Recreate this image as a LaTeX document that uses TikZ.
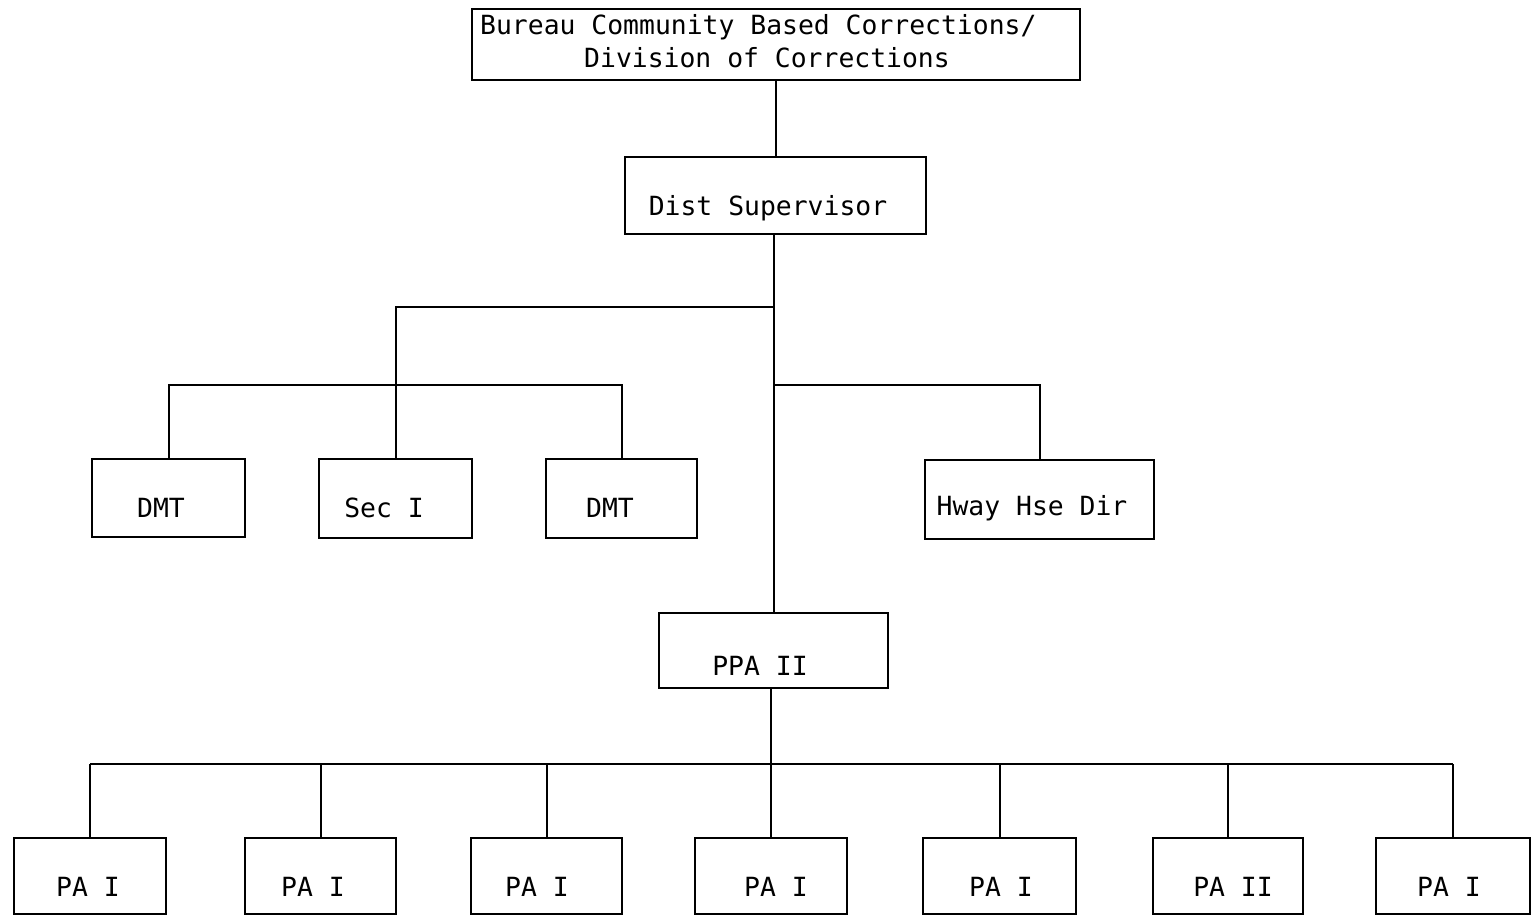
\documentclass[tikz,border=0pt]{standalone}
\usepackage{fontspec}
\newfontfamily\chartfont{DejaVu Sans Mono}
\begin{document}
\begin{tikzpicture}[x=1pt,y=-1pt,
  box/.style={draw, line width=2pt, inner sep=0pt, outer sep=0pt, fill=white},
  lbl/.style={inner sep=0pt, anchor=base, font=\chartfont\fontsize{26.4}{33}\selectfont},
  link/.style={line width=2pt}]
\useasboundingbox[fill=white] (0,0) rectangle (1531,917);

% boxes (centre, width, height)
\node[box, minimum width=608, minimum height=71] (bureau) at (776,44.5) {};
\node[box, minimum width=301, minimum height=77] (ds)     at (775.5,195.5) {};
\node[box, minimum width=153, minimum height=78] (dmt1)   at (168.5,498) {};
\node[box, minimum width=153, minimum height=79] (sec)    at (395.5,498.5) {};
\node[box, minimum width=151, minimum height=79] (dmt2)   at (621.5,498.5) {};
\node[box, minimum width=229, minimum height=79] (hway)   at (1039.5,499.5) {};
\node[box, minimum width=229, minimum height=75] (ppa)    at (773.5,650.5) {};
\node[box, minimum width=152, minimum height=76] (pa1)    at (90,876) {};
\node[box, minimum width=151, minimum height=76] (pa2)    at (320.5,876) {};
\node[box, minimum width=151, minimum height=76] (pa3)    at (546.5,876) {};
\node[box, minimum width=152, minimum height=76] (pa4)    at (771,876) {};
\node[box, minimum width=153, minimum height=76] (pa5)    at (999.5,876) {};
\node[box, minimum width=150, minimum height=76] (pa6)    at (1228,876) {};
\node[box, minimum width=154, minimum height=76] (pa7)    at (1453,876) {};

% texts
\node[lbl, anchor=base west] (t-bureau1) at (480,35) {Bureau Community Based Corrections/};
\node[lbl] (t-bureau2) at (767,68) {Division of Corrections};
\node[lbl] (t-ds)   at (768,216) {Dist Supervisor};
\node[lbl] (t-dmt1) at (161,517) {DMT};
\node[lbl] (t-sec)  at (384,517) {Sec I};
\node[lbl] (t-dmt2) at (610,517) {DMT};
\node[lbl] (t-hway) at (1032,515) {Hway Hse Dir};
\node[lbl] (t-ppa)  at (760,675) {PPA II};
\node[lbl] (t-pa1)  at (88,896) {PA I};
\node[lbl] (t-pa2)  at (313,896) {PA I};
\node[lbl] (t-pa3)  at (537,896) {PA I};
\node[lbl] (t-pa4)  at (776,896) {PA I};
\node[lbl] (t-pa5)  at (1001,896) {PA I};
\node[lbl] (t-pa6)  at (1233,896) {PA II};
\node[lbl] (t-pa7)  at (1449,896) {PA I};

% junctions
\coordinate (secbar) at (774,307);
\coordinate (dmtbar) at (167,385);
\coordinate (hwybar) at (774,385);
\coordinate (pabar)  at (771,764);

% connectors
\draw[link] (bureau.south -| ds.north) -- (ds.north);
\draw[link] (ds.south -| secbar) -- (ppa.north -| secbar);
\draw[link] (secbar) -| (sec.north);
\draw[link] (dmt1.north) -- (dmt1.north |- dmtbar) -- (dmt2.north |- dmtbar) -- (dmt2.north);
\draw[link] (hwybar) -| (hway.north);
\draw[link] (ppa.south -| pabar) -- (pabar);
\draw[link] (pa1.north |- pabar) -- (pa7.north |- pabar);
\foreach \p in {pa1,pa2,pa3,pa4,pa5,pa6,pa7}
  \draw[link] (\p.north |- pabar) -- (\p.north);
\end{tikzpicture}
\end{document}
